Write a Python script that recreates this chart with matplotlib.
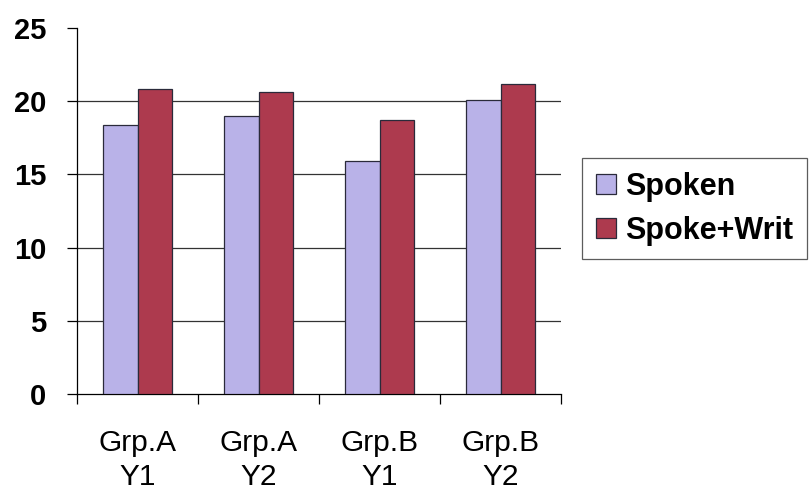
import numpy as np
import matplotlib
matplotlib.use("Agg")
import matplotlib.pyplot as plt

# data
categories = ["Grp.A\nY1", "Grp.A\nY2", "Grp.B\nY1", "Grp.B\nY2"]
spoken = [18.4, 19.0, 15.9, 20.1]
spoke_writ = [20.8, 20.6, 18.7, 21.2]
yticks = [0, 5, 10, 15, 20, 25]

plt.rcParams['font.family'] = ['Liberation Sans', 'DejaVu Sans']

fig = plt.figure(figsize=(8.1, 4.99), dpi=100)
ax = fig.add_axes([77/810, 1 - 394/499, 484/810, 366/499])

x = np.arange(len(categories))
w = 1 / 3.5
ax.bar(x - w/2, spoken, w, color="#B9B2E8", edgecolor="#2a2a3a", linewidth=0.9,
       label="Spoken", zorder=3)
ax.bar(x + w/2, spoke_writ, w, color="#AD3A4E", edgecolor="#2a2a3a", linewidth=0.9,
       label="Spoke+Writ", zorder=3)

ax.set_xlim(-0.5, len(categories) - 0.5)
ax.set_ylim(0, 25)

# gridlines at 5..20 only
for v in yticks[1:-1]:
    ax.axhline(v, color="#333333", linewidth=0.9, zorder=1)

for s in ["top", "right"]:
    ax.spines[s].set_visible(False)
ax.spines["left"].set_linewidth(0.9)
ax.spines["bottom"].set_linewidth(0.9)

ax.set_yticks(yticks)
ax.set_yticklabels([str(v) for v in yticks], fontsize=21, fontweight="bold")
ax.tick_params(axis="y", length=7, width=0.9, pad=15)

# category boundary ticks (major) and labels at centres (minor)
ax.set_xticks(np.arange(len(categories) + 1) - 0.5)
ax.set_xticklabels([])
ax.tick_params(axis="x", which="major", length=7, width=0.9)
ax.set_xticks(x, minor=True)
ax.set_xticklabels(categories, minor=True, fontsize=21.5, linespacing=1.3)
ax.tick_params(axis="x", which="minor", length=0, pad=25)

leg = ax.legend(loc="upper left", bbox_to_anchor=(505/484, (394-158)/366),
                borderaxespad=0, fancybox=False, frameon=True,
                prop={"size": 22, "weight": "bold"}, handlelength=0.65,
                handleheight=0.65, handletextpad=0.3, labelspacing=0.45,
                borderpad=0.45)
leg.get_frame().set_edgecolor("#333333")
leg.get_frame().set_linewidth(0.9)

fig.savefig("out.png", dpi=100)
